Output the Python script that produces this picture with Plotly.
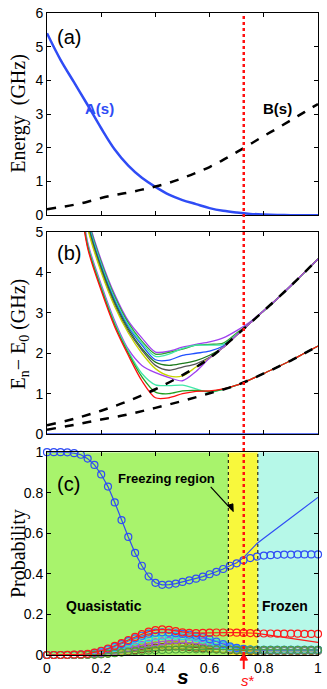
import plotly.graph_objects as go

# ---------------- Panel (a) data ----------------
s_a = [0.0, 0.05, 0.1, 0.15, 0.2, 0.25, 0.3, 0.35, 0.4, 0.45, 0.5,
       0.55, 0.6, 0.65, 0.7, 0.75, 0.8, 0.85, 0.9, 0.95, 1.0]
A_vals = [5.40, 4.61, 3.94, 3.27, 2.58, 1.95, 1.47, 1.11, 0.84, 0.61, 0.45,
          0.33, 0.21, 0.13, 0.078, 0.04, 0.02, 0.008, 0.003, 0.001, 0.0]
B_vals = [0.18, 0.24, 0.31, 0.40, 0.51, 0.60, 0.67, 0.76, 0.85, 0.96, 1.10,
          1.26, 1.43, 1.64, 1.87, 2.11, 2.35, 2.58, 2.82, 3.06, 3.30]

# ---------------- Panel (b) data ----------------
s_d = [0.0, 0.1, 0.2, 0.3, 0.4, 0.5, 0.6, 0.7, 0.8, 0.9, 1.0]
dash_lo = [0.11, 0.23, 0.36, 0.49, 0.65, 0.82, 1.01, 1.21, 1.50, 1.82, 2.18]
dash_hi = [0.22, 0.38, 0.58, 0.82, 1.11, 1.46, 1.88, 2.45, 3.05, 3.67, 4.33]

s_b = [0.10, 0.15, 0.20, 0.25, 0.30, 0.35, 0.40, 0.45, 0.50, 0.55, 0.60, 0.65,
       0.70, 0.75, 0.80, 0.85, 0.90, 0.95, 1.00]
lo_tail = [1.35, 1.50, 1.66, 1.82, 2.00, 2.18]
hi_tail = [2.75, 3.05, 3.35, 3.67, 4.00, 4.33]
lev_red = [6.9, 4.6, 3.55, 2.65, 1.95, 1.32, 0.90, 0.90, 1.00, 1.06, 1.07, 1.12, 1.21] + lo_tail
lev_green_lo = [6.95, 4.65, 3.6, 2.7, 2.0, 1.42, 1.04, 1.0, 1.07, 1.08, 1.06, 1.11, 1.21] + lo_tail
lev_aqua_lo = [7.0, 4.7, 3.65, 2.75, 2.05, 1.5, 1.22, 1.2, 1.21, 1.12, 1.03, 1.11, 1.21] + lo_tail
lev_purple_lo = [7.05, 4.75, 3.7, 2.8, 2.1, 1.7, 1.52, 1.4, 1.32, 1.55, 1.88, 2.14, 2.45] + hi_tail
lev_yellow = [7.6, 5.1, 4.0, 3.15, 2.5, 2.0, 1.62, 1.44, 1.44, 1.66, 1.88, 2.14, 2.45] + hi_tail
lev_gray = [7.7, 5.15, 4.05, 3.2, 2.55, 2.08, 1.7, 1.58, 1.66, 1.74, 1.9, 2.14, 2.45] + hi_tail
lev_dkgreen = [7.75, 5.2, 4.1, 3.25, 2.6, 2.12, 1.78, 1.7, 1.75, 1.82, 1.95, 2.15, 2.45] + hi_tail
lev_blue = [7.8, 5.25, 4.15, 3.3, 2.65, 2.2, 1.84, 1.83, 1.95, 2.0, 2.05, 2.18, 2.45] + hi_tail
lev_aqua_hi = [7.85, 5.3, 4.2, 3.35, 2.7, 2.25, 1.92, 1.98, 2.12, 2.2, 2.2, 2.22, 2.47] + hi_tail
lev_green_hi = [7.9, 5.35, 4.25, 3.4, 2.75, 2.3, 1.98, 2.02, 2.1, 2.2, 2.22, 2.25, 2.5] + hi_tail
lev_purple_hi = [7.95, 5.4, 4.3, 3.45, 2.8, 2.38, 2.03, 2.05, 2.15, 2.22, 2.28, 2.38, 2.56,
                 2.78, 3.06, 3.36, 3.68, 4.0, 4.34]

# ---------------- Panel (c) data ----------------
s_c = [0.0, 0.025, 0.05, 0.075, 0.1, 0.125, 0.15, 0.175, 0.2, 0.225, 0.25, 0.275, 0.3, 0.325,
       0.35, 0.375, 0.4, 0.425, 0.45, 0.475, 0.5, 0.525, 0.55, 0.575, 0.6, 0.625, 0.65, 0.675,
       0.7, 0.725, 0.75, 0.775, 0.8, 0.825, 0.85, 0.875, 0.9, 0.925, 0.95, 0.975, 1.0]
p_blue_circ = [1.0, 1.0, 1.0, 0.999, 0.995, 0.987, 0.968, 0.937, 0.890, 0.830, 0.752, 0.665, 0.582,
               0.503, 0.440, 0.387, 0.356, 0.346, 0.347, 0.352, 0.360, 0.368, 0.376, 0.386, 0.398,
               0.410, 0.424, 0.440, 0.452, 0.467, 0.478, 0.485, 0.490, 0.492, 0.494, 0.495, 0.495,
               0.496, 0.496, 0.496, 0.496]
p_blue_line = [1.0, 1.0, 1.0, 0.999, 0.995, 0.987, 0.968, 0.937, 0.890, 0.830, 0.752, 0.665, 0.582,
               0.503, 0.440, 0.387, 0.356, 0.346, 0.347, 0.352, 0.360, 0.368, 0.376, 0.386, 0.398,
               0.410, 0.424, 0.440, 0.455, 0.480, 0.515, 0.550, 0.575, 0.600, 0.625, 0.650, 0.675,
               0.700, 0.725, 0.750, 0.777]
p_red_circ = [0.0, 0.0, 0.0, 0.001, 0.002, 0.003, 0.006, 0.012, 0.021, 0.032, 0.045, 0.059, 0.074,
              0.089, 0.103, 0.115, 0.123, 0.126, 0.124, 0.118, 0.112, 0.109, 0.108, 0.109, 0.110,
              0.111, 0.111, 0.111, 0.110, 0.109, 0.108, 0.107, 0.106, 0.106, 0.105, 0.105, 0.105,
              0.105, 0.104, 0.104, 0.104]
p_red_line = [0.0, 0.0, 0.0, 0.001, 0.002, 0.003, 0.006, 0.012, 0.021, 0.032, 0.045, 0.059, 0.074,
              0.089, 0.103, 0.115, 0.123, 0.126, 0.124, 0.118, 0.112, 0.109, 0.108, 0.109, 0.110,
              0.111, 0.111, 0.111, 0.110, 0.109, 0.108, 0.107, 0.102, 0.097, 0.092, 0.087, 0.082,
              0.077, 0.072, 0.067, 0.062]
p_blue2 = [0, 0, 0, 0, 0, 0.002, 0.005, 0.011, 0.019, 0.029, 0.041, 0.054, 0.068, 0.082, 0.095,
           0.105, 0.110, 0.112, 0.110, 0.107, 0.104, 0.100, 0.095, 0.088, 0.078, 0.066, 0.054,
           0.043, 0.035, 0.030, 0.027, 0.026, 0.025, 0.025, 0.025, 0.025, 0.025, 0.025, 0.025,
           0.025, 0.025]
p_cyan = [0, 0, 0, 0, 0.001, 0.002, 0.004, 0.009, 0.016, 0.025, 0.035, 0.046, 0.057, 0.067, 0.076,
          0.084, 0.090, 0.094, 0.096, 0.096, 0.094, 0.090, 0.084, 0.076, 0.066, 0.056, 0.047,
          0.039, 0.033, 0.029, 0.027, 0.026, 0.025, 0.025, 0.025, 0.025, 0.025, 0.025, 0.025,
          0.025, 0.025]
p_purple = [0, 0, 0, 0, 0.001, 0.002, 0.003, 0.006, 0.010, 0.015, 0.021, 0.028, 0.035, 0.042, 0.049,
            0.056, 0.062, 0.067, 0.071, 0.074, 0.075, 0.074, 0.071, 0.066, 0.059, 0.051, 0.043,
            0.036, 0.031, 0.028, 0.026, 0.025, 0.024, 0.024, 0.024, 0.024, 0.024, 0.024, 0.024,
            0.024, 0.024]
p_olive = [0, 0, 0, 0, 0, 0.001, 0.002, 0.004, 0.007, 0.011, 0.016, 0.021, 0.027, 0.033, 0.038,
           0.043, 0.047, 0.050, 0.051, 0.050, 0.048, 0.045, 0.042, 0.039, 0.036, 0.033, 0.030,
           0.028, 0.026, 0.025, 0.024, 0.023, 0.023, 0.023, 0.023, 0.023, 0.023, 0.023, 0.023,
           0.023, 0.023]
p_brown = [0, 0, 0, 0, 0, 0, 0.001, 0.002, 0.004, 0.007, 0.010, 0.014, 0.018, 0.023, 0.028, 0.032,
           0.036, 0.039, 0.041, 0.042, 0.041, 0.039, 0.036, 0.033, 0.030, 0.028, 0.026, 0.024,
           0.022, 0.021, 0.020, 0.020, 0.020, 0.020, 0.020, 0.020, 0.020, 0.020, 0.020, 0.020, 0.020]
p_green = [0, 0, 0, 0, 0, 0, 0.001, 0.002, 0.004, 0.006, 0.009, 0.012, 0.015, 0.018, 0.020, 0.022,
           0.024, 0.025, 0.026, 0.027, 0.028, 0.028, 0.028, 0.028, 0.027, 0.027, 0.026, 0.026,
           0.025, 0.025, 0.025, 0.025, 0.025, 0.025, 0.025, 0.025, 0.025, 0.025, 0.025, 0.025, 0.025]

s_star = 0.726
freeze_lo = 0.669
freeze_hi = 0.778
x_ticks = [0, 0.2, 0.4, 0.6, 0.8, 1]

# ---------------- Figure ----------------
fig = go.Figure()
BLUE = "#2f4cf5"

# (a)
fig.add_trace(go.Scatter(x=s_a, y=A_vals, mode="lines", line=dict(color=BLUE, width=2.5, shape="spline"),
                         xaxis="x", yaxis="y"))
fig.add_trace(go.Scatter(x=s_a, y=B_vals, mode="lines",
                         line=dict(color="black", width=2.5, dash="dash", shape="spline"),
                         xaxis="x", yaxis="y"))

# (b)
fig.add_trace(go.Scatter(x=[0, 1], y=[0, 0], mode="lines", line=dict(color=BLUE, width=2),
                         xaxis="x2", yaxis="y2"))
levels = [
    (lev_purple_hi, "#a040f0"), (lev_green_hi, "#30a030"), (lev_aqua_hi, "#40e8a8"),
    (lev_blue, "#2050ff"), (lev_dkgreen, "#1c7a1c"), (lev_gray, "#555555"),
    (lev_yellow, "#c8d400"), (lev_purple_lo, "#a040f0"), (lev_aqua_lo, "#40e8a8"),
    (lev_green_lo, "#20a020"), (lev_red, "#ff1010"),
]
for vals, col in levels:
    fig.add_trace(go.Scatter(x=s_b, y=vals, mode="lines",
                             line=dict(color=col, width=1.3, shape="spline", smoothing=0.8),
                             xaxis="x2", yaxis="y2"))
for vals in (dash_lo, dash_hi):
    fig.add_trace(go.Scatter(x=s_d, y=vals, mode="lines",
                             line=dict(color="black", width=2.5, dash="dash", shape="spline"),
                             xaxis="x2", yaxis="y2"))

# (c)
small = [(p_brown, "#7a4a20"), (p_olive, "#a8a820"), (p_purple, "#a050e0"),
         (p_cyan, "#20e0e0"), (p_blue2, "#3060ff"), (p_green, "#50a040")]
for vals, col in small:
    fig.add_trace(go.Scatter(x=s_c, y=vals, mode="lines+markers",
                             line=dict(color=col, width=1),
                             marker=dict(symbol="circle-open", size=7, color=col, line=dict(width=1.2)),
                             cliponaxis=False, xaxis="x3", yaxis="y3"))
fig.add_trace(go.Scatter(x=s_c, y=p_red_line, mode="lines", line=dict(color="#ff1a1a", width=1.2),
                         xaxis="x3", yaxis="y3"))
fig.add_trace(go.Scatter(x=s_c, y=p_red_circ, mode="markers",
                         marker=dict(symbol="circle-open", size=7, color="#ff1a1a", line=dict(width=1.2)),
                         cliponaxis=False, xaxis="x3", yaxis="y3"))
fig.add_trace(go.Scatter(x=s_c, y=p_blue_line, mode="lines", line=dict(color=BLUE, width=1.2),
                         xaxis="x3", yaxis="y3"))
fig.add_trace(go.Scatter(x=s_c, y=p_blue_circ, mode="markers",
                         marker=dict(symbol="circle-open", size=7, color=BLUE, line=dict(width=1.2)),
                         cliponaxis=False, xaxis="x3", yaxis="y3"))

TICKF = dict(family="Arial, Liberation Sans, sans-serif", size=14, color="black")
axbase = dict(range=[0, 1], showline=True, linecolor="black", linewidth=1, mirror="ticks",
              ticks="inside", ticklen=4, tickcolor="black", showgrid=False, zeroline=False,
              tickfont=TICKF)

fig.update_layout(
    width=327, height=689,
    margin=dict(l=47, r=5, t=7, b=34),
    paper_bgcolor="white", plot_bgcolor="white",
    showlegend=False,
    xaxis=dict(axbase, domain=[0, 1], anchor="y", tickvals=x_ticks, showticklabels=False),
    yaxis=dict(axbase, domain=[0.685, 1], range=[0, 6], dtick=1, anchor="x"),
    xaxis2=dict(axbase, domain=[0, 1], anchor="y2", tickvals=x_ticks, showticklabels=False),
    yaxis2=dict(axbase, domain=[0.344, 0.659], range=[0, 5], dtick=1, anchor="x2"),
    xaxis3=dict(axbase, domain=[0, 1], anchor="y3", tickvals=x_ticks),
    yaxis3=dict(axbase, domain=[0, 0.316], range=[0, 1], dtick=0.2, anchor="x3"),
)

shapes = [
    dict(type="rect", xref="x3", yref="y3", x0=0, x1=freeze_lo, y0=0, y1=1,
         fillcolor="#a8f36c", line=dict(width=0), layer="below"),
    dict(type="rect", xref="x3", yref="y3", x0=freeze_lo, x1=freeze_hi, y0=0, y1=1,
         fillcolor="#f8f83c", line=dict(width=0), layer="below"),
    dict(type="rect", xref="x3", yref="y3", x0=freeze_hi, x1=1, y0=0, y1=1,
         fillcolor="#b6f8e8", line=dict(width=0), layer="below"),
    dict(type="line", xref="x3", yref="y3", x0=freeze_lo, x1=freeze_lo, y0=0, y1=1,
         line=dict(color="black", width=1, dash="dot")),
    dict(type="line", xref="x3", yref="y3", x0=freeze_hi, x1=freeze_hi, y0=0, y1=1,
         line=dict(color="black", width=1, dash="dot")),
    dict(type="line", xref="x", yref="paper", x0=s_star, x1=s_star, y0=0, y1=1,
         line=dict(color="#ff1010", width=2.5, dash="dot"), layer="above"),
    # red arrow pointing at s*
    dict(type="line", xref="x3", yref="paper", x0=s_star, x1=s_star, y0=-0.022, y1=-0.006,
         line=dict(color="#ff1010", width=2)),
    dict(type="path", xref="x3", yref="paper",
         path=f"M {s_star - 0.014} -0.008 L {s_star + 0.014} -0.008 L {s_star} 0.002 Z",
         fillcolor="#ff1010", line=dict(color="#ff1010", width=1)),
    # arrow for "Freezing region"
    dict(type="line", xref="x3", yref="y3", x0=0.604, y0=0.829, x1=0.682, y1=0.715,
         line=dict(color="black", width=1.2)),
    dict(type="path", xref="x3", yref="y3",
         path="M 0.687 0.707 L 0.667 0.738 L 0.686 0.745 Z",
         fillcolor="black", line=dict(color="black", width=1)),
]

SERIF = "Times New Roman, Liberation Serif, serif"
SANS = "Arial, Liberation Sans, sans-serif"
ann = [
    dict(text="(a)", x=0.03, y=5.3, xref="x", yref="y", xanchor="left", showarrow=False,
         font=dict(family=SANS, size=20, color="black")),
    dict(text="<b>A(s)</b>", x=0.193, y=3.18, xref="x", yref="y", showarrow=False,
         font=dict(family=SANS, size=15, color=BLUE)),
    dict(text="<b>B(s)</b>", x=0.851, y=3.18, xref="x", yref="y", showarrow=False,
         font=dict(family=SANS, size=15, color="black")),
    dict(text="(b)", x=0.03, y=4.47, xref="x2", yref="y2", xanchor="left", showarrow=False,
         font=dict(family=SANS, size=20, color="black")),
    dict(text="(c)", x=0.03, y=0.845, xref="x3", yref="y3", xanchor="left", showarrow=False,
         font=dict(family=SANS, size=20, color="black")),
    dict(text="<b>Freezing region</b>", x=0.44, y=0.87, xref="x3", yref="y3", showarrow=False,
         font=dict(family=SANS, size=13, color="black")),
    dict(text="<b>Quasistatic</b>", x=0.211, y=0.242, xref="x3", yref="y3", showarrow=False,
         font=dict(family=SANS, size=14, color="black")),
    dict(text="<b>Frozen</b>", x=0.877, y=0.242, xref="x3", yref="y3", showarrow=False,
         font=dict(family=SANS, size=14, color="black")),
    dict(text="<i>s</i>*", x=0.740, y=-0.0395, xref="x3", yref="paper", showarrow=False,
         xanchor="center", yanchor="middle",
         font=dict(family=SANS, size=15, color="#ff1010")),
    dict(text="<b><i>s</i></b>", x=0.5, y=-0.034, xref="paper", yref="paper", showarrow=False,
         xanchor="center", yanchor="middle",
         font=dict(family=SANS, size=21, color="black")),
    dict(text="Energy  (GHz)", x=-0.105, y=0.8425, xref="paper", yref="paper", textangle=-90,
         xanchor="center", yanchor="middle",
         showarrow=False, font=dict(family=SERIF, size=20, color="black")),
    dict(text="E<sub>n</sub>− E<sub>0</sub> (GHz)", x=-0.105, y=0.50, xref="paper", yref="paper",
         xanchor="center", yanchor="middle",
         textangle=-90, showarrow=False, font=dict(family=SERIF, size=20, color="black")),
    dict(text="Probability", x=-0.105, y=0.158, xref="paper", yref="paper", textangle=-90,
         xanchor="center", yanchor="middle",
         showarrow=False, font=dict(family=SERIF, size=20, color="black")),
]
fig.update_layout(annotations=ann, shapes=shapes)

fig.write_html("out.html", config={"displayModeBar": False},
               post_script="document.body.style.margin='0px';document.body.style.padding='0px';")
